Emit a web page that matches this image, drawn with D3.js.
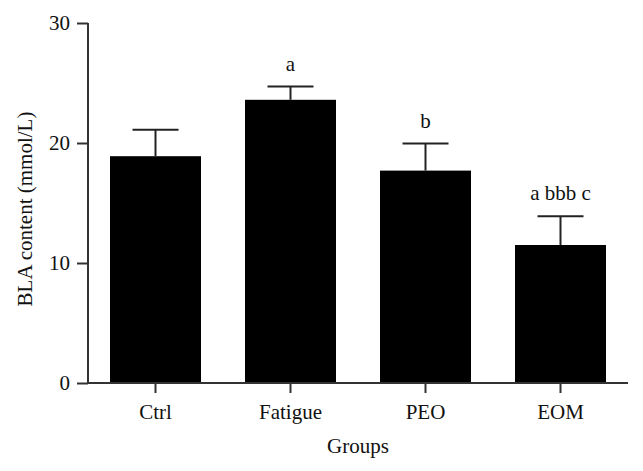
<!DOCTYPE html>
<html>
<head>
<meta charset="utf-8">
<script src="https://cdn.jsdelivr.net/npm/d3@7"></script>
<style>
  body { margin: 0; background: #fff; }
  text { font-family: "Liberation Serif", "DejaVu Serif", serif; fill: #111; }
</style>
</head>
<body>
<div id="chart"></div>
<script>
// data
const groups = ['Ctrl', 'Fatigue', 'PEO', 'EOM'];
const means = [18.9, 23.6, 17.7, 11.5];
const errors = [2.2, 1.1, 2.25, 2.4];
const marks = ['', 'a', 'b', 'a bbb c'];
const yTicks = [0, 10, 20, 30];

const width = 643, height = 471;
const margin = {top: 23, right: 15, bottom: 88, left: 88};
const innerW = width - margin.left - margin.right,
      innerH = height - margin.top - margin.bottom;
const fontSize = '21px';

const svg = d3.select('#chart')
    .append('svg')
    .attr('width', width)
    .attr('height', height);

const g = svg.append('g')
    .attr('transform', `translate(${margin.left}, ${margin.top})`);

const x = d3.scaleBand()
    .domain(groups)
    .range([0, innerW])
    .paddingInner(0.326)
    .paddingOuter(0.163);

const y = d3.scaleLinear()
    .domain([0, 30])
    .range([innerH, 0]);

// bars
g.selectAll('.bar')
    .data(groups)
    .join('rect')
    .attr('class', 'bar')
    .attr('x', d => x(d))
    .attr('y', (d, i) => y(means[i]))
    .attr('width', x.bandwidth())
    .attr('height', (d, i) => y(0) - y(means[i]))
    .attr('fill', '#000');

// error bars (upper only)
const capW = 46;
const err = g.selectAll('.err')
    .data(groups)
    .join('g')
    .attr('class', 'err')
    .attr('stroke', '#222')
    .attr('stroke-width', 2);
err.append('line')
    .attr('x1', d => x(d) + x.bandwidth() / 2)
    .attr('x2', d => x(d) + x.bandwidth() / 2)
    .attr('y1', (d, i) => y(means[i]))
    .attr('y2', (d, i) => y(means[i] + errors[i]));
err.append('line')
    .attr('x1', d => x(d) + x.bandwidth() / 2 - capW / 2)
    .attr('x2', d => x(d) + x.bandwidth() / 2 + capW / 2)
    .attr('y1', (d, i) => y(means[i] + errors[i]))
    .attr('y2', (d, i) => y(means[i] + errors[i]));

// significance letters
g.selectAll('.mark')
    .data(groups)
    .join('text')
    .attr('class', 'mark')
    .attr('x', d => x(d) + x.bandwidth() / 2)
    .attr('y', (d, i) => y(means[i] + errors[i]) - 16)
    .attr('text-anchor', 'middle')
    .style('font-size', fontSize)
    .text((d, i) => marks[i]);

// axes
const yAxis = g.append('g')
    .call(d3.axisLeft(y).tickValues(yTicks).tickSize(11).tickPadding(7));
const xAxis = g.append('g')
    .attr('transform', `translate(0, ${innerH})`)
    .call(d3.axisBottom(x).tickSize(10).tickPadding(11));

[xAxis, yAxis].forEach(a => {
    a.select('.domain').attr('stroke', '#333').attr('stroke-width', 2);
    a.selectAll('.tick line').attr('stroke', '#333').attr('stroke-width', 2);
    a.selectAll('.tick text').style('font-size', fontSize).attr('fill', '#111')
        .style('font-family', '"Liberation Serif", "DejaVu Serif", serif');
});
// remove the outer tick stubs at both ends of the axes
xAxis.select('.domain').attr('d', `M0,0H${innerW}`);
yAxis.select('.domain').attr('d', `M0,${innerH}V0`);

// axis titles
svg.append('text')
    .attr('x', margin.left + innerW / 2)
    .attr('y', 453)
    .attr('text-anchor', 'middle')
    .style('font-size', fontSize)
    .text('Groups');

svg.append('text')
    .attr('transform', `translate(32, ${margin.top + innerH / 2 + 6}) rotate(-90)`)
    .attr('text-anchor', 'middle')
    .style('font-size', fontSize)
    .text('BLA content (mmol/L)');
</script>
</body>
</html>
